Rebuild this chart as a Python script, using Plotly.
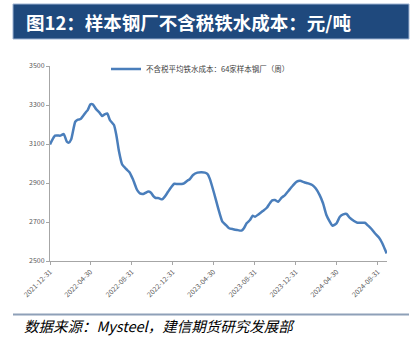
import plotly.graph_objects as go

# ---- data ----
dates = [
    "2021-12-31", "2022-01-15", "2022-01-31", "2022-02-10", "2022-02-19", "2022-02-25",
    "2022-03-04", "2022-03-16", "2022-03-24", "2022-04-01", "2022-04-16", "2022-04-22",
    "2022-04-30", "2022-05-07", "2022-05-17", "2022-05-27", "2022-06-04", "2022-06-11",
    "2022-06-19", "2022-06-27", "2022-07-09", "2022-07-16", "2022-07-24", "2022-08-02",
    "2022-08-14", "2022-08-24", "2022-09-03", "2022-09-13", "2022-09-17", "2022-09-24",
    "2022-10-04", "2022-10-11", "2022-10-19", "2022-10-27", "2022-11-03", "2022-11-10",
    "2022-11-17", "2022-11-22", "2022-11-29", "2022-12-07", "2022-12-17", "2022-12-27",
    "2023-01-04", "2023-01-14", "2023-01-26", "2023-02-02", "2023-02-12", "2023-02-19",
    "2023-03-01", "2023-03-14", "2023-03-26", "2023-04-05", "2023-04-13", "2023-04-20",
    "2023-05-02", "2023-05-14", "2023-05-27", "2023-06-06", "2023-06-16", "2023-06-28",
    "2023-07-10", "2023-07-23", "2023-07-30", "2023-08-07", "2023-08-17", "2023-08-25",
    "2023-09-01", "2023-09-11", "2023-09-24", "2023-10-06", "2023-10-13", "2023-10-22",
    "2023-10-30", "2023-11-09", "2023-11-19", "2023-11-29", "2023-12-09", "2023-12-22",
    "2024-01-03", "2024-01-13", "2024-01-25", "2024-02-06", "2024-02-18", "2024-02-28",
    "2024-03-11", "2024-03-21", "2024-03-31", "2024-04-10", "2024-04-18", "2024-04-30",
    "2024-05-10", "2024-05-20", "2024-05-30", "2024-06-08", "2024-06-21", "2024-07-01",
    "2024-07-13", "2024-07-23", "2024-08-02", "2024-08-12", "2024-08-22", "2024-09-03",
    "2024-09-13", "2024-09-23", "2024-09-26",
]
cost = [
    3098, 3143, 3143, 3151, 3112, 3107,
    3124, 3214, 3225, 3228, 3262, 3274,
    3303, 3303, 3279, 3261, 3244, 3252,
    3257, 3223, 3197, 3146, 3061, 2996,
    2972, 2955, 2920, 2875, 2861, 2847,
    2844, 2850, 2856, 2850, 2833, 2823,
    2823, 2820, 2816, 2830, 2856, 2881,
    2896, 2895, 2895, 2898, 2912, 2919,
    2941, 2953, 2955, 2953, 2946, 2920,
    2850, 2774, 2702, 2685, 2668, 2663,
    2659, 2656, 2668, 2693, 2710, 2732,
    2727, 2739, 2756, 2773, 2791, 2811,
    2813, 2804, 2825, 2838, 2859, 2886,
    2907, 2911, 2904, 2898, 2890, 2873,
    2838, 2796, 2736, 2702, 2681, 2693,
    2727, 2739, 2741, 2722, 2705, 2696,
    2696, 2696, 2681, 2664, 2642, 2620,
    2591, 2551, 2539,
]
x_ticks = ["2021-12-31", "2022-04-30", "2022-08-31", "2022-12-31", "2023-04-30",
           "2023-08-31", "2023-12-31", "2024-04-30", "2024-08-31"]
y_ticks = [2500, 2700, 2900, 3100, 3300, 3500]

series_name = "不含税平均铁水成本：64家样本钢厂（周）"
title_text = "<b>图12：样本钢厂不含税铁水成本：元/吨</b>"
source_text = "<i>数据来源：Mysteel，建信期货研究发展部</i>"

W, H = 418, 342
L, R, T, B = 50, 31, 66, 81
pw, ph = W - L - R, H - T - B


def px_x(p):
    return (p - L) / pw


def px_y(p):
    return 1 - (p - T) / ph


fig = go.Figure()
fig.add_trace(go.Scatter(
    x=dates, y=cost, mode="lines", name=series_name,
    line=dict(color="#4A7EBB", width=2.5, shape="spline", smoothing=0.5),
))

fig.update_layout(
    width=W, height=H,
    margin=dict(l=L, r=R, t=T, b=B, pad=0),
    paper_bgcolor="white", plot_bgcolor="white",
    font=dict(family="Noto Sans CJK SC, DejaVu Sans", size=7, color="#595959"),
    showlegend=True,
    legend=dict(
        orientation="h", x=px_x(106), y=px_y(69), xanchor="left", yanchor="middle",
        font=dict(size=7.5, color="#404040"), bgcolor="rgba(0,0,0,0)",
        itemwidth=30,
    ),
    xaxis=dict(
        type="date", range=["2021-12-31", "2024-09-27"],
        tickmode="array", tickvals=x_ticks, ticktext=x_ticks,
        tickangle=-45, ticks="outside", ticklen=3, tickcolor="#A6A6A6",
        showline=True, linecolor="#A6A6A6", linewidth=1,
        showgrid=False, zeroline=False,
        tickfont=dict(size=7, color="#595959"),
    ),
    yaxis=dict(
        range=[2500, 3500], tickmode="array", tickvals=y_ticks,
        ticks="outside", ticklen=3, tickcolor="#A6A6A6",
        showline=True, linecolor="#A6A6A6", linewidth=1,
        showgrid=False, zeroline=False,
        tickfont=dict(size=7, color="#595959"),
    ),
    shapes=[
        dict(type="rect", xref="paper", yref="paper",
             x0=px_x(13), x1=px_x(409), y0=px_y(39), y1=px_y(4),
             fillcolor="#1F497D", line=dict(color="#9DB3D3", width=1), layer="above"),
        dict(type="line", xref="paper", yref="paper",
             x0=px_x(13), x1=px_x(409), y0=px_y(314.5), y1=px_y(314.5),
             line=dict(color="#8EA0B8", width=2)),
    ],
    annotations=[
        dict(text=title_text, xref="paper", yref="paper",
             x=px_x(24), y=px_y(22), xanchor="left", yanchor="middle",
             showarrow=False,
             font=dict(family="Noto Sans CJK SC", size=18.5, color="white")),
        dict(text=source_text, xref="paper", yref="paper",
             x=px_x(22), y=px_y(325), xanchor="left", yanchor="middle",
             showarrow=False,
             font=dict(family="Noto Sans CJK SC", size=14.5, color="#000000")),
    ],
)

fig.write_html("out.html")
